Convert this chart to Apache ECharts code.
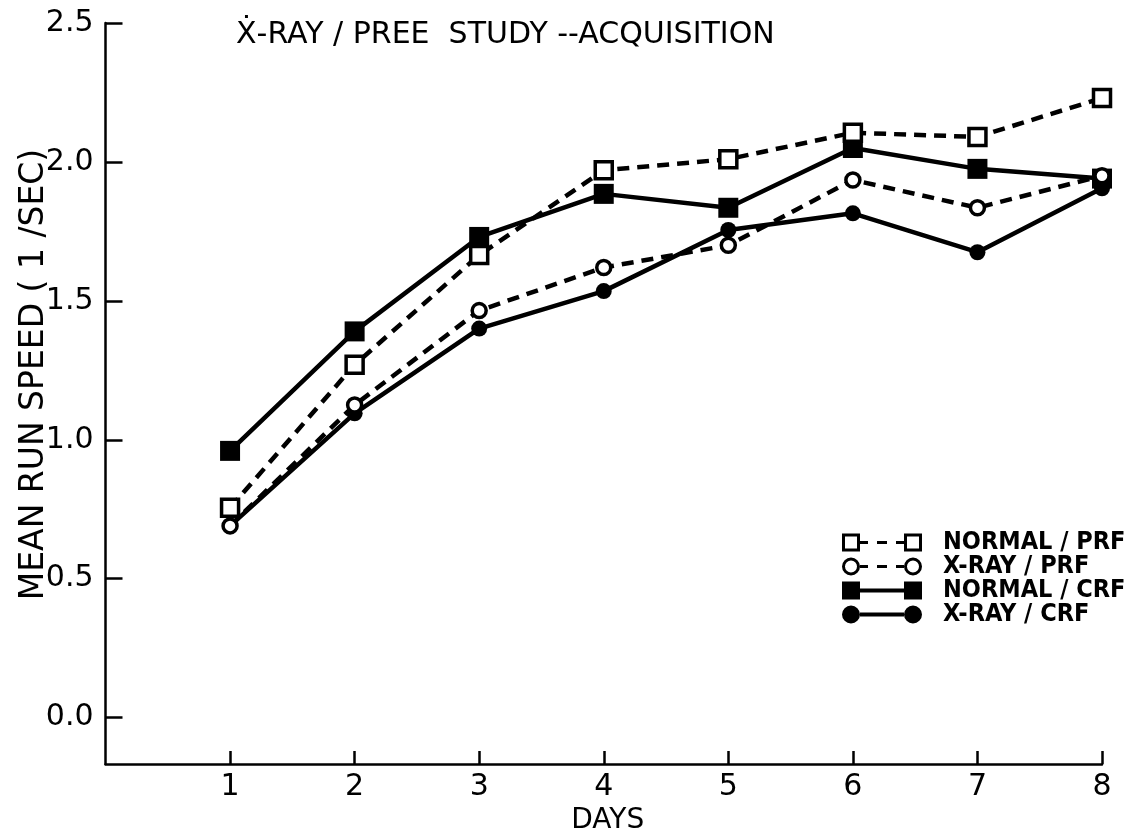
<!DOCTYPE html>
<html><head><meta charset="utf-8">
<script src="https://cdn.jsdelivr.net/npm/echarts@6/dist/echarts.min.js"></script>
<style>html,body{margin:0;padding:0;background:#fff}#c{width:1126px;height:834px}</style>
</head><body><div id="c"></div>
<script>
// ---- data ----
const days = [1, 2, 3, 4, 5, 6, 7, 8];
const seriesNames = ['NORMAL / PRF', 'X-RAY / PRF', 'NORMAL / CRF', 'X-RAY / CRF'];
const normalPRF = [0.755, 1.27, 1.665, 1.97, 2.01, 2.105, 2.09, 2.23];
const xrayPRF   = [0.69, 1.125, 1.465, 1.62, 1.70, 1.935, 1.835, 1.95];
const normalCRF = [0.96, 1.39, 1.73, 1.885, 1.835, 2.05, 1.975, 1.94];
const xrayCRF   = [0.69, 1.095, 1.40, 1.535, 1.755, 1.815, 1.675, 1.905];
const titleText = 'Ẋ-RAY / PREE  STUDY --ACQUISITION';
const xName = 'DAYS';
const yName = 'MEAN RUN SPEED ( 1 /SEC)';

const F = "'DejaVu Sans', sans-serif";
const FC = "'DejaVu Sans Condensed', 'DejaVu Sans', sans-serif";
const pts = arr => days.map((d, i) => [d, arr[i]]);

const icons = {
  openSquare: 'path://M0,0L18,0L18,18L0,18Z M3,3L3,15L15,15L15,3Z M18,7.5L26,7.5L26,10.5L18,10.5Z M35,7.5L45,7.5L45,10.5L35,10.5Z M54,7.5L62,7.5L62,10.5L54,10.5Z M62,0L80,0L80,18L62,18Z M65,3L65,15L77,15L77,3Z',
  openCircle: 'path://M0,9A9,9 0 1 1 18,9A9,9 0 1 1 0,9Z M3,9A6,6 0 1 0 15,9A6,6 0 1 0 3,9Z M18,7.5L26,7.5L26,10.5L18,10.5Z M35,7.5L45,7.5L45,10.5L35,10.5Z M54,7.5L62,7.5L62,10.5L54,10.5Z M62,9A9,9 0 1 1 80,9A9,9 0 1 1 62,9Z M65,9A6,6 0 1 0 77,9A6,6 0 1 0 65,9Z',
  fillSquare: 'path://M0,0L18,0L18,18L0,18Z M18,7L62,7L62,11L18,11Z M62,0L80,0L80,18L62,18Z',
  fillCircle: 'path://M0,9A9,9 0 1 1 18,9A9,9 0 1 1 0,9Z M18,7L62,7L62,11L18,11Z M62,9A9,9 0 1 1 80,9A9,9 0 1 1 62,9Z'
};

const chart = echarts.init(document.getElementById('c'), null, {renderer: 'canvas'});
const dash = [12, 8];
const LW = 4.5;
chart.setOption({
  animation: false,
  backgroundColor: '#fff',
  title: {
    text: titleText, left: 236, top: 20, padding: 0,
    textStyle: {fontFamily: F, fontSize: 30, fontWeight: 'normal', color: '#000'}
  },
  grid: {left: 105.5, right: 24, top: 23, bottom: 70, containLabel: false, outerBoundsMode: 'none'},
  legend: {
    orient: 'vertical', left: 842, top: 530, padding: 0, itemWidth: 80, itemHeight: 18, itemGap: -1,
    selectedMode: false,
    itemStyle: {color: '#000', borderWidth: 0},
    textStyle: {fontFamily: FC, fontSize: 25, fontWeight: 'bold', color: '#000', lineHeight: 22, padding: [0, 0, 0, 16]},
    data: [
      {name: seriesNames[0], icon: icons.openSquare},
      {name: seriesNames[1], icon: icons.openCircle},
      {name: seriesNames[2], icon: icons.fillSquare},
      {name: seriesNames[3], icon: icons.fillCircle}
    ]
  },
  xAxis: {
    type: 'value', min: 0, max: 8, interval: 1,
    axisLine: {onZero: false, lineStyle: {color: '#000', width: 2.5}},
    axisTick: {inside: true, length: 13, lineStyle: {color: '#000', width: 2.5}},
    axisLabel: {showMinLabel: false, color: '#000', fontFamily: F, fontSize: 30, margin: 8,
      formatter: v => (v === 0 ? '' : String(v))},
    splitLine: {show: false},
    name: xName, nameLocation: 'middle', nameGap: 43,
    nameTextStyle: {fontFamily: F, fontSize: 28, color: '#000', padding: [0, 0, 0, 8]}
  },
  yAxis: {
    type: 'value', min: -0.167, max: 2.5, minInterval: 0.5, maxInterval: 0.5, splitNumber: 5,
    axisLine: {show: true, onZero: false, lineStyle: {color: '#000', width: 2.5}},
    axisTick: {show: true, inside: true, length: 17, lineStyle: {color: '#000', width: 2.5}},
    axisLabel: {showMinLabel: false, color: '#000', fontFamily: F, fontSize: 30, margin: 12,
      formatter: v => (v < -0.01 ? '' : v.toFixed(1))},
    splitLine: {show: false},
    name: yName, nameLocation: 'middle', nameGap: 55, nameRotate: 90, nameMoveOverlap: false,
    nameTextStyle: {fontFamily: F, fontSize: 33, color: '#000', padding: [0, 0, 0, 38]}
  },
  series: [
    {name: seriesNames[0], type: 'line', z: 3, data: pts(normalPRF), symbol: 'rect', symbolSize: 17,
      itemStyle: {color: '#fff', borderColor: '#000', borderWidth: 3.5},
      lineStyle: {color: '#000', width: LW, type: dash}, emphasis: {disabled: true}},
    {name: seriesNames[1], type: 'line', z: 3, data: pts(xrayPRF), symbol: 'circle', symbolSize: 14,
      itemStyle: {color: '#fff', borderColor: '#000', borderWidth: 3.5},
      lineStyle: {color: '#000', width: LW, type: dash}, emphasis: {disabled: true}},
    {name: seriesNames[2], type: 'line', z: 2, data: pts(normalCRF), symbol: 'rect', symbolSize: 20,
      itemStyle: {color: '#000'},
      lineStyle: {color: '#000', width: LW, type: 'solid'}, emphasis: {disabled: true}},
    {name: seriesNames[3], type: 'line', z: 2, data: pts(xrayCRF), symbol: 'circle', symbolSize: 16,
      itemStyle: {color: '#000'},
      lineStyle: {color: '#000', width: LW, type: 'solid'}, emphasis: {disabled: true}}
  ]
});
</script></body></html>
